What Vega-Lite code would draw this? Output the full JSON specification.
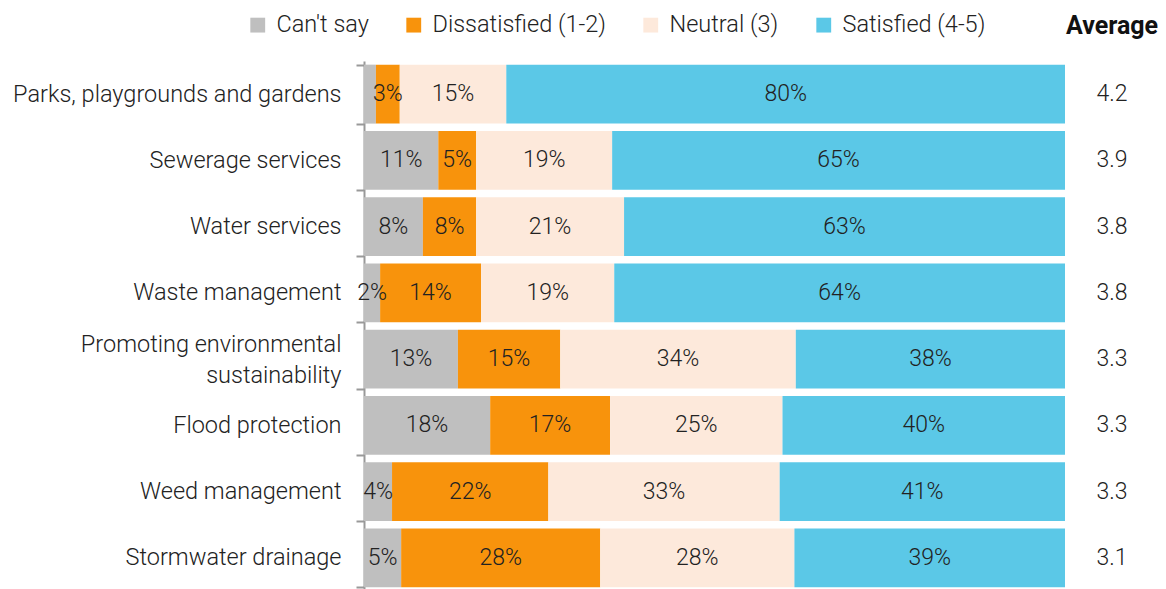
{
  "$schema": "https://vega.github.io/schema/vega-lite/v6.json",
  "padding": {"left": 12, "top": 13, "right": 5, "bottom": 0},
  "datasets": {
    "resp": [
      {"item": "Parks, playgrounds and gardens", "category": "Can't say", "value": 1.7},
      {"item": "Parks, playgrounds and gardens", "category": "Dissatisfied (1-2)", "value": 3.4},
      {"item": "Parks, playgrounds and gardens", "category": "Neutral (3)", "value": 15.2},
      {"item": "Parks, playgrounds and gardens", "category": "Satisfied (4-5)", "value": 79.7},
      {"item": "Sewerage services", "category": "Can't say", "value": 10.6},
      {"item": "Sewerage services", "category": "Dissatisfied (1-2)", "value": 5.4},
      {"item": "Sewerage services", "category": "Neutral (3)", "value": 19.4},
      {"item": "Sewerage services", "category": "Satisfied (4-5)", "value": 64.6},
      {"item": "Water services", "category": "Can't say", "value": 8.4},
      {"item": "Water services", "category": "Dissatisfied (1-2)", "value": 7.6},
      {"item": "Water services", "category": "Neutral (3)", "value": 21.1},
      {"item": "Water services", "category": "Satisfied (4-5)", "value": 62.9},
      {"item": "Waste management", "category": "Can't say", "value": 2.3},
      {"item": "Waste management", "category": "Dissatisfied (1-2)", "value": 14.4},
      {"item": "Waste management", "category": "Neutral (3)", "value": 19.0},
      {"item": "Waste management", "category": "Satisfied (4-5)", "value": 64.3},
      {"item": "Promoting environmental sustainability", "category": "Can't say", "value": 13.4},
      {"item": "Promoting environmental sustainability", "category": "Dissatisfied (1-2)", "value": 14.6},
      {"item": "Promoting environmental sustainability", "category": "Neutral (3)", "value": 33.6},
      {"item": "Promoting environmental sustainability", "category": "Satisfied (4-5)", "value": 38.4},
      {"item": "Flood protection", "category": "Can't say", "value": 18.0},
      {"item": "Flood protection", "category": "Dissatisfied (1-2)", "value": 17.1},
      {"item": "Flood protection", "category": "Neutral (3)", "value": 24.6},
      {"item": "Flood protection", "category": "Satisfied (4-5)", "value": 40.3},
      {"item": "Weed management", "category": "Can't say", "value": 4.0},
      {"item": "Weed management", "category": "Dissatisfied (1-2)", "value": 22.3},
      {"item": "Weed management", "category": "Neutral (3)", "value": 33.0},
      {"item": "Weed management", "category": "Satisfied (4-5)", "value": 40.7},
      {"item": "Stormwater drainage", "category": "Can't say", "value": 5.3},
      {"item": "Stormwater drainage", "category": "Dissatisfied (1-2)", "value": 28.4},
      {"item": "Stormwater drainage", "category": "Neutral (3)", "value": 27.7},
      {"item": "Stormwater drainage", "category": "Satisfied (4-5)", "value": 38.6}
    ],
    "avg": [
      {"item": "Parks, playgrounds and gardens", "average": 4.2},
      {"item": "Sewerage services", "average": 3.9},
      {"item": "Water services", "average": 3.8},
      {"item": "Waste management", "average": 3.8},
      {"item": "Promoting environmental sustainability", "average": 3.3},
      {"item": "Flood protection", "average": 3.3},
      {"item": "Weed management", "average": 3.3},
      {"item": "Stormwater drainage", "average": 3.1}
    ]
  },
  "spacing": 0,
  "hconcat": [
    {
      "width": 701,
      "height": 530,
      "data": {"name": "resp"},
      "transform": [
        {"calculate": "indexof(['Can\\'t say','Dissatisfied (1-2)','Neutral (3)','Satisfied (4-5)'], datum.category)", "as": "order"},
        {"stack": "value", "groupby": ["item"], "sort": [{"field": "order", "order": "ascending"}], "as": ["x0", "x1"]},
        {"calculate": "(datum.x0 + datum.x1) / 2", "as": "xmid"},
        {"calculate": "format(datum.value, '.0f') + '%'", "as": "label"}
      ],
      "encoding": {
        "y": {
          "field": "item",
          "type": "nominal",
          "sort": ["Parks, playgrounds and gardens", "Sewerage services", "Water services", "Waste management", "Promoting environmental sustainability", "Flood protection", "Weed management", "Stormwater drainage"],
          "scale": {"paddingInner": 0.11, "paddingOuter": 0.055},
          "axis": {
            "title": null,
            "domainColor": "#999999",
            "domainWidth": 2,
            "tickColor": "#999999",
            "tickWidth": 2,
            "tickSize": 8,
            "tickBand": "extent",
            "labelPadding": 15,
            "labelFontSize": 23.5,
            "labelFont": "Roboto",
            "labelFontWeight": 300,
            "labelColor": "#222222",
            "labelLimit": 400,
            "labelLineHeight": 31,
            "labelOffset": {"condition": {"test": "datum.value == 'Promoting environmental sustainability'", "value": -15}, "value": 0},
            "labelExpr": "datum.value == 'Promoting environmental sustainability' ? ['Promoting environmental', 'sustainability'] : datum.value"
          }
        }
      },
      "layer": [
        {
          "mark": {"type": "bar"},
          "encoding": {
            "x": {"field": "x0", "type": "quantitative", "scale": {"domain": [0, 100]}, "axis": null},
            "x2": {"field": "x1"},
            "color": {
              "field": "category",
              "type": "nominal",
              "scale": {
                "domain": ["Can't say", "Dissatisfied (1-2)", "Neutral (3)", "Satisfied (4-5)"],
                "range": ["#BFBFBF", "#F8930C", "#FDE9DB", "#5BC8E7"]
              },
              "legend": {
                "title": null,
                "orient": "none",
                "direction": "horizontal",
                "legendX": -118,
                "legendY": -48,
                "symbolType": "square",
                "symbolSize": 220,
                "symbolStrokeWidth": 0,
                "labelFontSize": 23.5,
                "labelFont": "Roboto",
                "labelFontWeight": 300,
                "labelColor": "#222222",
                "labelLimit": 400,
                "columnPadding": 33,
                "labelOffset": 7
              }
            }
          }
        },
        {
          "transform": [{"filter": "datum.value >= 2"}],
          "mark": {"type": "text", "fontSize": 23, "font": "Roboto", "fontWeight": 300, "color": "#222222"},
          "encoding": {
            "x": {"field": "xmid", "type": "quantitative"},
            "text": {"field": "label"}
          }
        }
      ]
    },
    {
      "width": 92,
      "height": 530,
      "data": {"name": "avg"},
      "title": {"text": "Average", "fontSize": 25, "font": "Roboto", "fontWeight": "bold", "color": "#111111", "anchor": "middle", "offset": 22},
      "mark": {"type": "text", "fontSize": 23, "font": "Roboto", "fontWeight": 300, "color": "#222222"},
      "encoding": {
        "y": {
          "field": "item",
          "type": "nominal",
          "sort": ["Parks, playgrounds and gardens", "Sewerage services", "Water services", "Waste management", "Promoting environmental sustainability", "Flood protection", "Weed management", "Stormwater drainage"],
          "scale": {"paddingInner": 0.11, "paddingOuter": 0.055},
          "axis": null
        },
        "text": {"field": "average", "type": "quantitative", "format": ".1f"}
      }
    }
  ],
  "config": {"view": {"stroke": null}, "font": "Roboto"}
}
